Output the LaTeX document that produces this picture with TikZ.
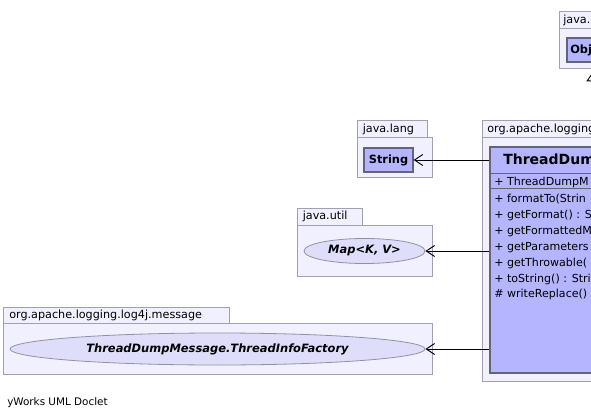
\documentclass[tikz,border=0pt]{standalone}
\usepackage{fontspec}
\setmainfont{DejaVu Sans}
\usetikzlibrary{arrows.meta,shapes.geometric}
\definecolor{pkgfill}{RGB}{240,240,255}
\definecolor{pkgline}{RGB}{160,160,176}
\definecolor{classfill}{RGB}{180,180,255}
\definecolor{classline}{RGB}{100,100,120}
\definecolor{ellfill}{RGB}{222,222,250}
\definecolor{ellline}{RGB}{145,145,165}
\tikzset{
    uml diagram/.style = {x=0.75pt, y=-0.75pt,
                          >={Straight Barb[length=2.2mm, width=2.9mm]}},
    pkg/.style         = {draw=pkgline, fill=pkgfill, line width=0.75pt},
    pkglabel/.style    = {anchor=west, inner sep=0pt,
                          font=\fontsize{8.4}{10}\selectfont},
    classbox/.style    = {draw=classline, fill=classfill, line width=0.9pt,
                          inner sep=0pt, font=\fontsize{8.5}{10}\selectfont\bfseries},
    iface/.style       = {ellipse, draw=ellline, fill=ellfill, line width=0.6pt,
                          inner sep=0pt,
                          font=\fontsize{8.6}{10}\selectfont\bfseries\itshape},
    member/.style      = {anchor=west, inner sep=0pt,
                          font=\fontsize{8.3}{10}\selectfont},
    sepline/.style     = {draw=classline, line width=0.9pt},
    dep/.style         = {->, line width=0.7pt},
    gen/.style         = {-{Triangle[open, length=3mm, width=4mm]}, line width=0.7pt}
}

\begin{document}
\begin{tikzpicture}[uml diagram]
\clip (0,0) rectangle (591,420);
\fill[white] (0,0) rectangle (591,420);

% ================= java.lang (Object) =================
\draw[pkg] (559,12) rectangle (625,29);
\draw[pkg] (559,29) rectangle (665,69);
\node[pkglabel] (objtab) at (563,20.5) {java.lang};
\node[classbox, minimum width=36pt, minimum height=18pt] (obj) at (591,50) {Object};

% ================= java.lang (String) =================
\draw[pkg] (357,121) rectangle (427,138);
\draw[pkg] (357,138) rectangle (432,178);
\node[pkglabel] (langtab) at (362.5,129.5) {java.lang};
\node[classbox, minimum width=36.75pt, minimum height=18pt] (str) at (388.5,160) {String};

% ================= java.util =================
\draw[pkg] (297,208) rectangle (362,225);
\draw[pkg] (297,225) rectangle (432,276);
\node[pkglabel] (utiltab) at (302.5,216.5) {java.util};
\node[iface, minimum width=90.75pt, minimum height=18.75pt] (map) at (364.5,251) {Map<K, V>};

% ================= message package =================
\draw[pkg] (3,307) rectangle (229,323);
\draw[pkg] (3,323) rectangle (432,374);
\node[pkglabel] (msgtab) at (9,315) {org.apache.logging.log4j.message};
\node[iface, minimum width=311.25pt, minimum height=24pt] (factory) at (217.5,349)
    {ThreadDumpMessage.ThreadInfoFactory};

% ================= ThreadDumpMessage =================
\draw[pkg] (482,121) rectangle (720,138);
\draw[pkg] (482,138) rectangle (770,381);
\node[pkglabel] (logtab) at (487,129.5) {org.apache.logging.log4j.message};
\node[classbox, minimum width=195pt, minimum height=169.5pt] (tdm) at (620,260) {};
\node[anchor=west, inner sep=0pt, font=\fontsize{10.5}{12}\selectfont\bfseries]
    (tdmname) at (503,160.5) {ThreadDumpMessage};
\draw[sepline] (490,173.5) -- (750,173.5);
\node[member] (ctor) at (494,182.5) {+ ThreadDumpM};
\draw[sepline] (490,188.5) -- (750,188.5);
\foreach \txt [count=\i] in {+ formatTo(Strin, + getFormat() : S,
    + getFormattedM, + getParameters, + getThrowable(,
    + toString() : Stri, \# writeReplace()}
    \node[member] (m\i) at (494,{199.5+15.9*(\i-1)}) {\txt};

% ================= Relations =================
\draw[dep] (tdm.west |- str.east) -- (str.east);
\draw[dep] (tdm.west |- map.east) -- (map.east);
\draw[dep] (tdm.west |- factory.east) -- (factory.east);
\coordinate (genend) at (594,70);
\draw[gen] (tdm.north -| genend) -- (genend);

\node[anchor=west, inner sep=0pt, font=\fontsize{7.8}{10}\selectfont]
    (credit) at (7,403) {yWorks UML Doclet};

\end{tikzpicture}
\end{document}
